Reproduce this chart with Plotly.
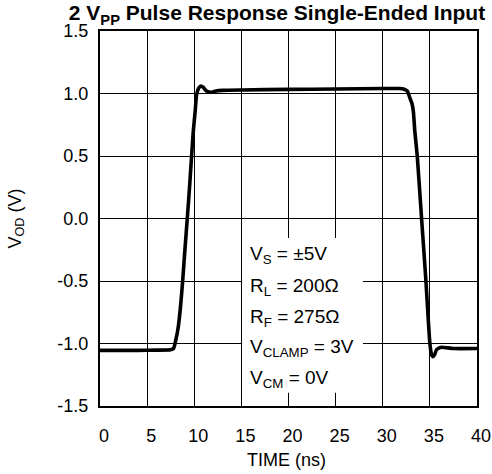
import plotly.graph_objects as go

# Waveform
time_ns = [0, 2, 4, 6, 7.5, 7.8, 8.05, 8.3, 8.55, 8.77, 9.0, 9.26, 9.5, 9.72, 9.9, 10.1,
           10.25, 10.45, 10.7, 10.95, 11.3, 11.85, 12.3, 13, 15, 20, 25, 30, 31.8, 32.2,
           32.6, 32.9, 33.1, 33.25, 33.4, 33.66, 34.12, 34.58, 35.0, 35.18, 35.3, 35.5,
           35.7, 36.0, 36.25, 37.5, 40]
vod = [-1.055, -1.055, -1.055, -1.053, -1.05, -1.04, -0.97, -0.87, -0.70, -0.5, -0.26, 0.0,
       0.25, 0.5, 0.7, 0.86, 0.99, 1.04, 1.06, 1.05, 1.02, 1.01, 1.02, 1.025, 1.028, 1.033,
       1.036, 1.04, 1.04, 1.036, 1.02, 0.96, 0.92, 0.855, 0.70, 0.5, 0.0, -0.5, -1.0, -1.09,
       -1.105, -1.09, -1.05, -1.035, -1.03, -1.04, -1.04]

x_ticks = [0, 5, 10, 15, 20, 25, 30, 35, 40]
x_tick_text = ["0", "5", "10", "15", "20", "25", "30", "35", "40"]
y_ticks = [-1.5, -1.0, -0.5, 0.0, 0.5, 1.0, 1.5]
y_tick_text = ["-1.5", "-1.0", "-0.5", "0.0", "0.5", "1.0", "1.5"]

conditions = ["V<sub>S</sub> = ±5V", "R<sub>L</sub> = 200Ω", "R<sub>F</sub> = 275Ω",
              "V<sub>CLAMP</sub> = 3V", "V<sub>CM</sub> = 0V"]
condition_y = [-0.295, -0.545, -0.795, -1.035, -1.28]

FONT = "Liberation Sans, Arial, sans-serif"

fig = go.Figure()
fig.add_trace(go.Scatter(x=time_ns, y=vod, mode="lines",
                         line=dict(color="black", width=3.6, shape="spline", smoothing=0.5),
                         hoverinfo="skip", showlegend=False))

fig.add_shape(type="rect", xref="x", yref="y", x0=15.08, x1=27.9, y0=-1.393, y1=-0.156,
              fillcolor="white", line=dict(width=0), layer="between")

for txt, yy in zip(conditions, condition_y):
    fig.add_annotation(x=15.7, y=yy, xref="x", yref="y", text=txt, showarrow=False,
                       xanchor="left", yanchor="middle",
                       font=dict(family=FONT, size=19, color="black"))

fig.add_annotation(x=(16 - 100) / 377, y=0.5, xref="paper", yref="paper",
                   text="V<sub>OD</sub> (V)", textangle=-90, showarrow=False,
                   xanchor="center", yanchor="middle",
                   font=dict(family=FONT, size=18, color="black"))
fig.add_annotation(x=(286 - 100) / 377, y=(406 - 460) / 375, xref="paper", yref="paper",
                   text="TIME (ns)", showarrow=False, xanchor="center", yanchor="middle",
                   font=dict(family=FONT, size=18, color="black"))

axis_common = dict(showgrid=True, gridcolor="black", gridwidth=1, showline=True,
                   linecolor="black", linewidth=2, mirror=True, zeroline=False,
                   automargin=False, ticks="",
                   tickfont=dict(family=FONT, size=18, color="black"))

fig.update_xaxes(range=[0, 40], tickvals=x_ticks, ticktext=x_tick_text,
                 ticklabelstandoff=12, ticklabelshift=4, **axis_common)
fig.update_yaxes(range=[-1.5, 1.5], tickvals=y_ticks, ticktext=y_tick_text,
                 ticklabelstandoff=6, **axis_common)

fig.update_layout(
    width=492, height=474,
    margin=dict(l=100, r=15, t=31, b=68, autoexpand=False),
    paper_bgcolor="white", plot_bgcolor="white",
    title=dict(text="<b>2 V<sub>PP</sub> Pulse Response Single-Ended Input</b>",
               xref="container", yref="container", x=277 / 492, y=1 - 13 / 474,
               xanchor="center", yanchor="middle",
               font=dict(family=FONT, size=21, color="black")),
)

fig.write_html("out.html", config={"displayModeBar": False},
               post_script="document.body.style.margin='0';document.body.style.overflow='hidden';")
